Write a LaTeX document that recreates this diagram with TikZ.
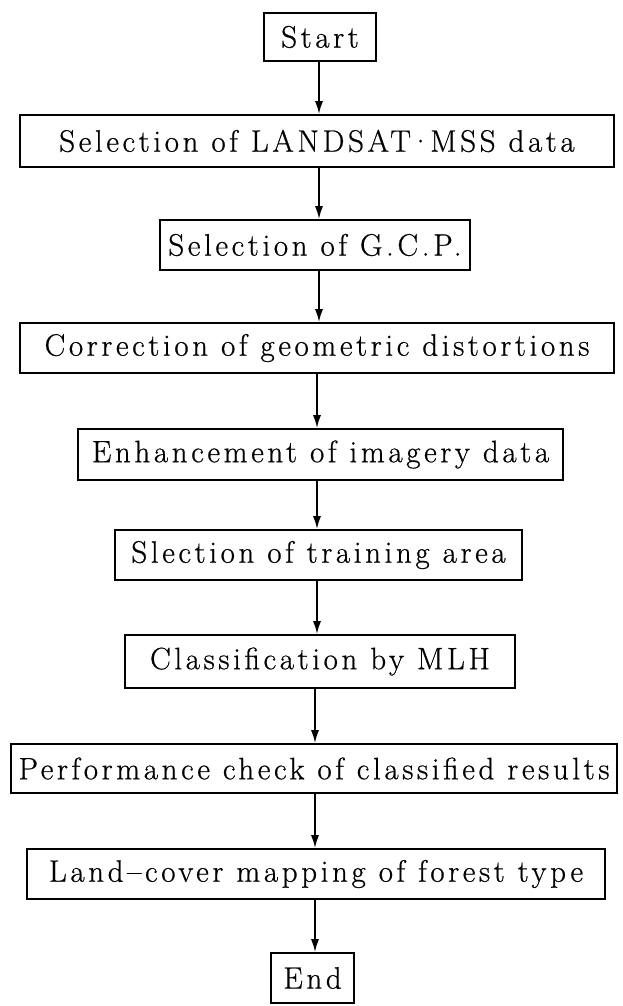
\documentclass[tikz,border=0pt]{standalone}
\usepackage{fontspec}
\setmainfont{Latin Modern Roman}[LetterSpace=11.7,FakeBold=0.6]
\usetikzlibrary{arrows.meta}
\begin{document}
\begin{tikzpicture}[x=1pt,y=-1pt,
  box/.style={draw,line width=1.6pt,inner sep=0pt,font=\fontsize{31}{36}\selectfont},
  arr/.style={line width=1.7pt,-{Latex[length=13pt,width=8pt]}}]
\useasboundingbox (0,0) rectangle (622,1006);
\coordinate (axa) at (319,0);
\coordinate (axb) at (317,0);
\coordinate (axc) at (315,0);
\node[box,minimum width=112pt,minimum height=48pt] (start) at (320,37) {Start};
\node[box,minimum width=594pt,minimum height=52pt] (sel) at (317,141) {Selection of LANDSAT\kern-1.5pt·\kern-1.5pt MSS data};
\node[box,minimum width=310pt,minimum height=50pt] (gcp) at (315,245) {Selection of G.C.P.};
\node[box,minimum width=594pt,minimum height=50pt] (cor) at (317,348) {Correction of geometric distortions};
\node[box,minimum width=485pt,minimum height=51pt] (enh) at (320.5,454.5) {Enhancement of imagery data};
\node[box,minimum width=407pt,minimum height=50pt] (tra) at (318.5,555) {Slection of training area};
\node[box,minimum width=390pt,minimum height=53pt] (cla) at (320,661.5) {Classification by MLH};
\node[box,minimum width=606pt,minimum height=49pt] (per) at (314,768.5) {Performance check of classified results};
\node[box,minimum width=578pt,minimum height=50pt] (lan) at (316,874) {Land–cover mapping of forest type};
\node[box,minimum width=83pt,minimum height=50pt] (end) at (312.5,978) {End};
\draw[arr] (start.south -| axa) -- (sel.north -| axa);
\draw[arr] (sel.south -| axa) -- (gcp.north -| axa);
\draw[arr] (gcp.south -| axa) -- (cor.north -| axa);
\draw[arr] (cor.south -| axb) -- (enh.north -| axb);
\draw[arr] (enh.south -| axb) -- (tra.north -| axb);
\draw[arr] (tra.south -| axb) -- (cla.north -| axb);
\draw[arr] (cla.south -| axc) -- (per.north -| axc);
\draw[arr] (per.south -| axc) -- (lan.north -| axc);
\draw[arr] (lan.south -| axc) -- (end.north -| axc);
\end{tikzpicture}
\end{document}
